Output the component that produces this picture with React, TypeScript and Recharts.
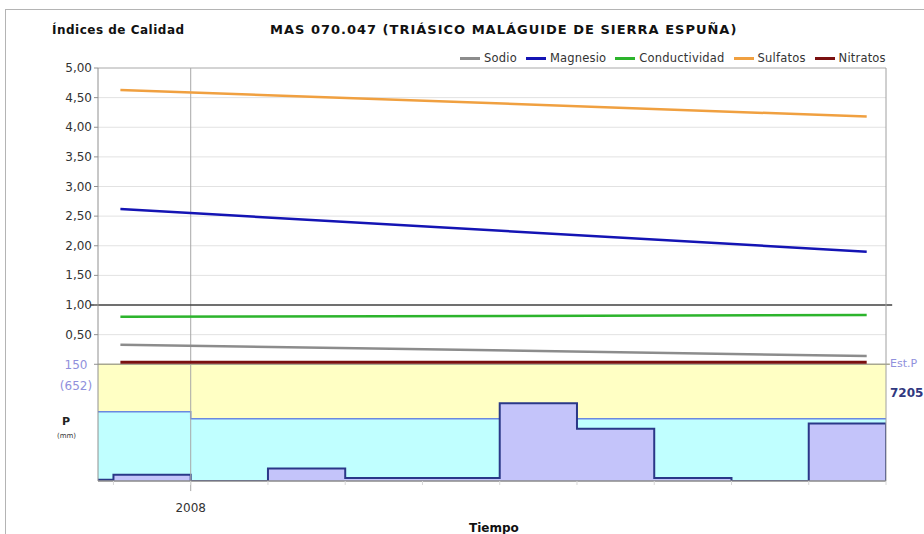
import React from "react";
import {
  ComposedChart,
  Line,
  Area,
  XAxis,
  YAxis,
  ReferenceLine,
  ReferenceArea,
} from "recharts";

// precipitation bars (mm), one per year, step drawn from each start
const P_T = [2006.8, 2007, 2008, 2009, 2010, 2011, 2012, 2013, 2014, 2015, 2016, 2017];
const P_VALUES = [1.5, 8, 0, 16, 4, 4, 100, 67, 4, 0, 74, 0];

// mean precipitation band (cyan)
const MEAN_T = [2006.8, 2008, 2017];
const MEAN_VALUES = [89, 80, 80];

// quality indices, trend lines
const LINE_T = [2007.09, 2016.75];
const SODIO = [0.33, 0.14];
const MAGNESIO = [2.62, 1.9];
const CONDUCTIVIDAD = [0.8, 0.83];
const SULFATOS = [4.63, 4.18];
const NITRATOS = [0.035, 0.035];

const Q_TICKS = [0, 0.5, 1, 1.5, 2, 2.5, 3, 3.5, 4, 4.5, 5];
const YEAR_TICKS = [2007, 2008, 2009, 2010, 2011, 2012, 2013, 2014, 2015, 2016, 2017];
const LABELLED_YEARS = [2008];

const P_TOP = 150;
const P_TOTAL = 652;
const EST_P = 7205;

const SERIES = [
  { key: "sodio", name: "Sodio", color: "#8c8c8c", values: SODIO, width: 2.5 },
  { key: "magnesio", name: "Magnesio", color: "#1414b4", values: MAGNESIO, width: 2.5 },
  { key: "conductividad", name: "Conductividad", color: "#2cb42c", values: CONDUCTIVIDAD, width: 2.5 },
  { key: "sulfatos", name: "Sulfatos", color: "#f0a040", values: SULFATOS, width: 2.5 },
  { key: "nitratos", name: "Nitratos", color: "#7a1010", values: NITRATOS, width: 3 },
];

const X_DOMAIN = [2006.8, 2017];
const Q_MIN = -1.97;
const Q_MAX = 5;
const P_MAX = (P_TOP * (Q_MAX - Q_MIN)) / (0 - Q_MIN);

const allT = Array.from(new Set([...P_T, ...MEAN_T, ...LINE_T])).sort((a, b) => a - b);
const data = allT.map((t) => {
  const row: Record<string, number> = { t };
  const pi = P_T.indexOf(t);
  if (pi >= 0) row.p = P_VALUES[pi];
  const mi = MEAN_T.indexOf(t);
  if (mi >= 0) row.pm = MEAN_VALUES[mi];
  const li = LINE_T.indexOf(t);
  if (li >= 0) SERIES.forEach((s) => (row[s.key] = s.values[li]));
  return row;
});

const FONT = "'DejaVu Sans', sans-serif";
const fmt = (v: number) => v.toFixed(2).replace(".", ",");

const QTick = (props: any) => {
  const { x, y, payload } = props;
  if (payload.value === 0) {
    return (
      <g fontFamily={FONT} fontSize={12} fill="#9090dc" textAnchor="middle">
        <text x={x - 16} y={y + 5}>{P_TOP}</text>
        <text x={x - 16} y={y + 26}>({P_TOTAL})</text>
      </g>
    );
  }
  return (
    <text x={x} y={y + 4} textAnchor="end" fontFamily={FONT} fontSize={12} fill="#333">
      {fmt(payload.value)}
    </text>
  );
};

const TTick = (props: any) => {
  const { x, y, payload } = props;
  if (!LABELLED_YEARS.includes(payload.value)) return null;
  return (
    <text x={x} y={y + 25} textAnchor="middle" fontFamily={FONT} fontSize={12} fill="#333">
      {payload.value}
    </text>
  );
};

const txt = (s: React.CSSProperties): React.CSSProperties => ({
  position: "absolute",
  fontFamily: FONT,
  whiteSpace: "nowrap",
  lineHeight: "16px",
  ...s,
});

export default function App() {
  return (
    <div style={{ position: "absolute", left: 0, top: 0, width: 924, height: 534, background: "#fff", overflow: "hidden" }}>
      <div
        style={{
          position: "absolute",
          left: 5,
          top: 9,
          width: 919,
          height: 525,
          borderLeft: "1px solid #b4b4b4",
          borderTop: "1px solid #b4b4b4",
        }}
      />
      <ComposedChart
        width={924}
        height={534}
        data={data}
        margin={{ top: 68, right: 38, bottom: 13, left: 38 }}
      >
        <XAxis
          xAxisId="t"
          dataKey="t"
          type="number"
          domain={X_DOMAIN}
          allowDataOverflow
          ticks={YEAR_TICKS}
          tick={<TTick />}
          tickSize={4}
          tickLine={{ stroke: "#d8d8d8" }}
          axisLine={{ stroke: "#8a8a8a", strokeWidth: 1.5 }}
          height={40}
        />
        <YAxis
          yAxisId="q"
          type="number"
          domain={[Q_MIN, Q_MAX]}
          allowDataOverflow
          ticks={Q_TICKS}
          tick={<QTick />}
          tickSize={4}
          tickMargin={2}
          tickLine={{ stroke: "#909090" }}
          axisLine={{ stroke: "#909090" }}
          width={60}
        />
        <YAxis yAxisId="p" orientation="right" type="number" domain={[0, P_MAX]} allowDataOverflow hide />

        <ReferenceArea
          xAxisId="t"
          yAxisId="p"
          x1={X_DOMAIN[0]}
          x2={X_DOMAIN[1]}
          y1={0}
          y2={P_TOP}
          fill="#ffffc4"
          fillOpacity={1}
          stroke="none"
        />
        {Q_TICKS.filter((v) => v > 0 && v !== 1).map((v) => (
          <ReferenceLine
            key={v}
            xAxisId="t"
            yAxisId="q"
            y={v}
            stroke={v === Q_MAX ? "#a8a8a8" : "#e2e2e2"}
            strokeWidth={1}
          />
        ))}
        <Area
          xAxisId="t"
          yAxisId="p"
          type="stepAfter"
          dataKey="pm"
          connectNulls
          fill="#c0ffff"
          fillOpacity={1}
          stroke="#6a88e0"
          strokeWidth={1.5}
          dot={false}
          activeDot={false}
          isAnimationActive={false}
        />
        <Area
          xAxisId="t"
          yAxisId="p"
          type="stepAfter"
          dataKey="p"
          connectNulls
          fill="#c4c4fa"
          fillOpacity={1}
          stroke="#2a3888"
          strokeWidth={2}
          dot={false}
          activeDot={false}
          isAnimationActive={false}
        />
        <ReferenceLine
          xAxisId="t"
          yAxisId="q"
          segment={[{ x: 2008, y: Q_MAX }, { x: 2008, y: -2.14 }]}
          ifOverflow="visible"
          stroke="#a8a8a8"
        />
        <ReferenceLine
          xAxisId="t"
          yAxisId="q"
          segment={[{ x: 2006.7, y: 1 }, { x: 2017.08, y: 1 }]}
          ifOverflow="visible"
          stroke="#404040"
          strokeWidth={1.5}
        />
        <ReferenceLine
          xAxisId="t"
          yAxisId="q"
          segment={[{ x: 2006.8, y: 0 }, { x: 2017.05, y: 0 }]}
          ifOverflow="visible"
          stroke="#a8a890"
          strokeWidth={1.5}
        />
        <ReferenceLine xAxisId="t" yAxisId="q" x={2017} stroke="#a0a0a0" />
        {SERIES.map((s) => (
          <Line
            key={s.key}
            xAxisId="t"
            yAxisId="q"
            type="linear"
            dataKey={s.key}
            name={s.name}
            stroke={s.color}
            strokeWidth={s.width}
            connectNulls
            dot={false}
            activeDot={false}
            isAnimationActive={false}
          />
        ))}
      </ComposedChart>

      <div style={txt({ left: 52, top: 22, fontSize: 12, fontWeight: "bold", color: "#111", letterSpacing: 0.5 })}>
        Índices de Calidad
      </div>
      <div style={txt({ left: 270, top: 22, fontSize: 13, fontWeight: "bold", color: "#111", letterSpacing: 1 })}>
        MAS 070.047 (TRIÁSICO MALÁGUIDE DE SIERRA ESPUÑA)
      </div>

      <div style={{ position: "absolute", left: 460, top: 50, display: "flex", alignItems: "center", fontFamily: FONT, fontSize: 11.5, letterSpacing: 0.2, color: "#333", lineHeight: "16px" }}>
        {SERIES.map((s) => (
          <div key={s.key} style={{ display: "flex", alignItems: "center", marginRight: 9 }}>
            <span style={{ display: "inline-block", width: 20, height: 3, background: s.color, marginRight: 4 }} />
            <span>{s.name}</span>
          </div>
        ))}
      </div>

      <div style={txt({ left: 62, top: 414, fontSize: 11, fontWeight: "bold", color: "#222" })}>P</div>
      <div style={txt({ left: 57, top: 428, fontSize: 7, color: "#333" })}>(mm)</div>

      <div style={txt({ left: 890, top: 356, fontSize: 11, color: "#9090dc" })}>Est.P</div>
      <div style={txt({ left: 890, top: 385, fontSize: 12, fontWeight: "bold", color: "#303880" })}>{EST_P}</div>

      <div style={txt({ left: 469, top: 520, fontSize: 12, fontWeight: "bold", color: "#111" })}>Tiempo</div>
    </div>
  );
}
